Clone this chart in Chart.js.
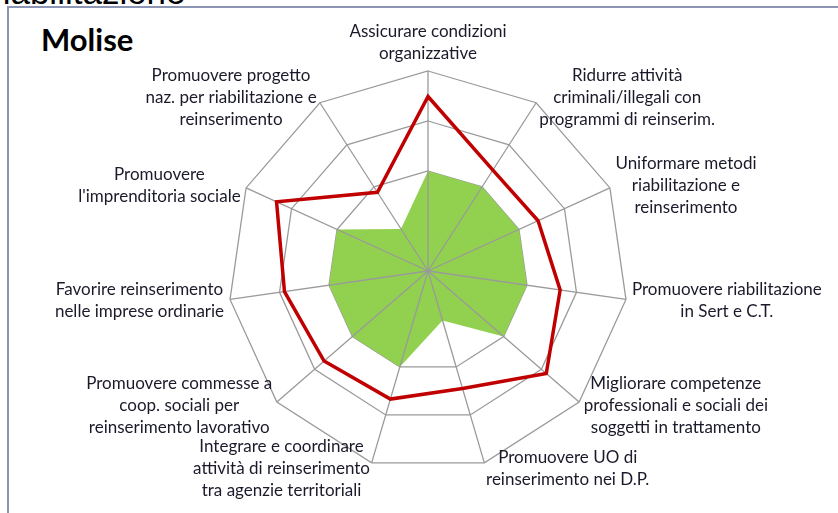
<!DOCTYPE html>
<html>
<head>
<meta charset="utf-8">
<script src="https://cdn.jsdelivr.net/npm/chart.js@4.4.1/dist/chart.umd.min.js"></script>
<style>
  body { margin: 0; width: 838px; height: 513px; overflow: hidden; background: #fff; position: relative; font-family: Lato, sans-serif; }
  #top-title { position: absolute; left: -9px; top: -28px; font-family: "Liberation Sans", Arial, sans-serif; font-size: 35px; color: #000; }
  #frame { position: absolute; left: 7px; top: 6px; right: -2px; bottom: -2px; border-left: 2px solid #8c96b4; border-top: 2px solid #8c96b4; background: #fff; }
  #molise { position: absolute; left: 41px; top: 20px; font-family: Lato, sans-serif; font-weight: bold; font-size: 31px; color: #000; }
  #wrap { position: absolute; left: 0; top: 0; width: 838px; height: 513px; }
</style>
</head>
<body>
<div id="top-title">riabilitazione</div>
<div id="frame"></div>
<div id="molise">Molise</div>
<div id="wrap"><canvas id="radar-chart"></canvas></div>
<script>
const etichette = [
    ['Assicurare condizioni', 'organizzative'],
    ['Ridurre attività', 'criminali/illegali con', 'programmi di reinserim.'],
    ['Uniformare metodi', 'riabilitazione e', 'reinserimento'],
    ['Promuovere riabilitazione', 'in Sert e C.T.'],
    ['Migliorare competenze', 'professionali e sociali dei', 'soggetti in trattamento'],
    ['Promuovere UO di', 'reinserimento nei D.P.'],
    ['Integrare e coordinare', 'attività di reinserimento', 'tra agenzie territoriali'],
    ['Promuovere commesse a', 'coop. sociali per', 'reinserimento lavorativo'],
    ['Favorire reinserimento', 'nelle imprese ordinarie'],
    ['Promuovere', "l'imprenditoria sociale"],
    ['Promuovere progetto', 'naz. per riabilitazione e', 'reinserimento']
];
const valoriRossi = [3.49, 2.4, 2.42, 2.67, 3.13, 2.45, 2.67, 2.75, 2.9, 3.33, 1.87];
const valoriVerdi = [2, 2, 2, 2, 2, 1.03, 2, 2, 2, 2, 1];
const scalaMin = 0;
const scalaMax = 4;

// raggi sopra l'area verde, sotto la linea rossa
const raggiPlugin = {
    id: 'raggi',
    afterDatasetDraw(chart, args) {
        if (args.index !== 1) return;
        const s = chart.scales.r;
        const ctx = chart.ctx;
        ctx.save();
        ctx.strokeStyle = '#9a9a9a';
        ctx.lineWidth = 1.3;
        for (let i = 0; i < etichette.length; i++) {
            const p = s.getPointPosition(i, s.drawingArea);
            ctx.beginPath();
            ctx.moveTo(s.xCenter, s.yCenter);
            ctx.lineTo(p.x, p.y);
            ctx.stroke();
        }
        ctx.restore();
    }
};

// etichette centrate come in Excel
const etichettePlugin = {
    id: 'etichette',
    afterDraw(chart) {
        const s = chart.scales.r;
        const ctx = chart.ctx;
        const lh = 22;
        ctx.save();
        ctx.font = '17px Lato, sans-serif';
        ctx.fillStyle = '#1a1a2a';
        ctx.textAlign = 'center';
        ctx.textBaseline = 'middle';
        etichette.forEach((righe, i) => {
            const p = s.getPointPosition(i, s.drawingArea + 6);
            const w = Math.max(...righe.map(r => ctx.measureText(r).width));
            const h = righe.length * lh;
            let cx, top;
            if (i === 0) {
                cx = p.x;
                top = p.y - h;
            } else if (p.x > s.xCenter) {
                cx = p.x + w / 2;
                top = p.y - h / 2;
            } else {
                cx = p.x - w / 2;
                top = p.y - h / 2;
            }
            righe.forEach((r, k) => ctx.fillText(r, cx, top + lh * k + lh / 2));
        });
        ctx.restore();
    }
};

const grafico = new Chart(document.getElementById('radar-chart'), {
    type: 'radar',
    data: {
        labels: etichette,
        datasets: [{
            label: 'Rosso',
            data: valoriRossi,
            borderColor: '#c00000',
            borderWidth: 3.5,
            fill: false,
            pointRadius: 0,
            tension: 0
        }, {
            label: 'Verde',
            data: valoriVerdi,
            borderWidth: 0,
            borderColor: '#92d050',
            backgroundColor: '#92d050',
            fill: true,
            pointRadius: 0,
            tension: 0
        }]
    },
    options: {
        responsive: true,
        maintainAspectRatio: false,
        animation: false,
        layout: { padding: { left: 228, right: 210, top: 71, bottom: 42 } },
        plugins: { legend: { display: false }, tooltip: { enabled: false } },
        scales: {
            r: {
                min: scalaMin,
                max: scalaMax,
                ticks: { display: false, stepSize: 1 },
                pointLabels: { display: false },
                angleLines: { display: false },
                grid: { color: '#9a9a9a', lineWidth: 1.3, circular: false }
            }
        }
    },
    plugins: [raggiPlugin, etichettePlugin]
});
</script>
</body>
</html>
